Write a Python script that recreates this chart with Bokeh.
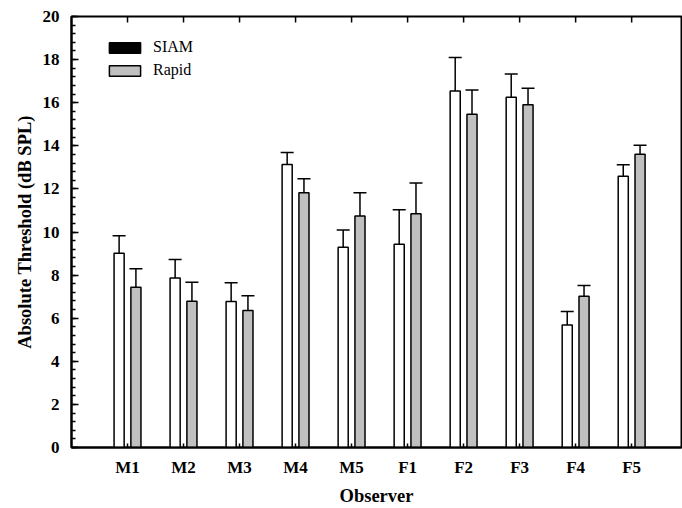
import math
from bokeh.plotting import figure
from bokeh.models import (ColumnDataSource, Range1d, FixedTicker,
                          SingleIntervalTicker, Whisker, TeeHead, Legend, LegendItem)
from bokeh.transform import dodge
from bokeh.embed import file_html
from bokeh.resources import INLINE

observers = ["M1", "M2", "M3", "M4", "M5", "F1", "F2", "F3", "F4", "F5"]
positions = [1, 2, 3, 4, 5, 6, 7, 8, 9, 10]
siam = [9.01, 7.86, 6.77, 13.13, 9.29, 9.43, 16.54, 16.25, 5.68, 12.59]
siam_err = [0.82, 0.86, 0.87, 0.56, 0.80, 1.60, 1.56, 1.08, 0.63, 0.53]
rapid = [7.44, 6.79, 6.36, 11.82, 10.74, 10.85, 15.46, 15.90, 7.02, 13.61]
rapid_err = [0.85, 0.88, 0.68, 0.65, 1.08, 1.42, 1.13, 0.77, 0.50, 0.42]
y_max = 20

FONT = "Liberation Serif"

src = ColumnDataSource(data=dict(
    x=positions,
    siam=siam,
    siam_top=[m + e for m, e in zip(siam, siam_err)],
    rapid=rapid,
    rapid_top=[m + e for m, e in zip(rapid, rapid_err)],
    top_edge=[y_max] * len(positions),
))

p = figure(width=682, height=508, output_backend="svg", toolbar_location=None,
           x_range=Range1d(0, 10.89), y_range=Range1d(0, y_max),
           min_border_left=71, min_border_right=1, min_border_top=16,
           min_border_bottom=60)
p.grid.visible = False
p.outline_line_color = "black"
p.outline_line_width = 2
p.background_fill_color = "white"
p.border_fill_color = "white"

p.vbar(x=dodge("x", -0.15, range=p.x_range), top="siam", width=0.18,
       source=src, fill_color="white", line_color="black", line_width=1.5)
p.vbar(x=dodge("x", 0.15, range=p.x_range), top="rapid", width=0.18,
       source=src, fill_color="#c0c0c0", line_color="black", line_width=1.5)

for key, off in (("siam", -0.15), ("rapid", 0.15)):
    w = Whisker(source=src, base=dodge("x", off, range=p.x_range),
                lower=key, upper=key + "_top", dimension="height",
                line_color="black", line_width=1.5,
                lower_head=None,
                upper_head=TeeHead(size=13, line_color="black", line_width=1.5))
    p.add_layout(w)

# inward tick marks along the top edge (clipped to the frame)
p.scatter(x="x", y="top_edge", source=src, marker="dash", angle=math.pi / 2,
          size=12, line_color="black", line_width=1.5)

# legend proxies (hidden renderers, legend shows their swatches)
leg_siam = p.vbar(x="x", top="siam", width=0.1, source=src, visible=False,
                  fill_color="black", line_color="black", line_width=1.5)
leg_rapid = p.vbar(x="x", top="rapid", width=0.1, source=src, visible=False,
                   fill_color="#c0c0c0", line_color="black", line_width=1.5)
legend = Legend(items=[LegendItem(label="SIAM", renderers=[leg_siam]),
                       LegendItem(label="Rapid", renderers=[leg_rapid])],
                location=(34, 368), glyph_width=39, glyph_height=13, label_height=13,
                spacing=5, padding=0, margin=0, label_standoff=9,
                border_line_color=None, background_fill_alpha=0,
                inactive_fill_alpha=0,
                label_text_font=FONT, label_text_font_size="16px",
                label_text_color="black")
p.add_layout(legend)

# x axis
xa = p.xaxis[0]
xa.ticker = FixedTicker(ticks=positions, minor_ticks=[])
xa.major_label_overrides = {pos: name for pos, name in zip(positions, observers)}
xa.major_tick_in = 4
xa.major_tick_out = 0
xa.major_tick_line_width = 1.5
xa.major_tick_line_color = "black"
xa.axis_line_width = 2
xa.axis_line_color = "black"
xa.major_label_standoff = 10
xa.major_label_text_font = FONT
xa.major_label_text_font_style = "bold"
xa.major_label_text_font_size = "17px"
xa.major_label_text_color = "black"
xa.axis_label = "Observer"
xa.axis_label_text_font = FONT
xa.axis_label_text_font_style = "bold"
xa.axis_label_text_font_size = "18.5px"
xa.axis_label_text_color = "black"
xa.axis_label_standoff = 6

# y axis
ya = p.yaxis[0]
ya.ticker = SingleIntervalTicker(interval=2, num_minor_ticks=5)
ya.major_tick_in = 7
ya.major_tick_out = 0
ya.minor_tick_in = 4
ya.minor_tick_out = 0
ya.major_tick_line_width = 1.5
ya.minor_tick_line_width = 1.5
ya.major_tick_line_color = "black"
ya.minor_tick_line_color = "black"
ya.axis_line_width = 2
ya.axis_line_color = "black"
ya.major_label_standoff = 12
ya.major_label_text_font = FONT
ya.major_label_text_font_style = "bold"
ya.major_label_text_font_size = "17px"
ya.major_label_text_color = "black"
ya.axis_label = "Absolute Threshold (dB SPL)"
ya.axis_label_text_font = FONT
ya.axis_label_text_font_style = "bold"
ya.axis_label_text_font_size = "18.5px"
ya.axis_label_text_color = "black"
ya.axis_label_standoff = 5

open("out.html", "w").write(file_html(p, INLINE))
